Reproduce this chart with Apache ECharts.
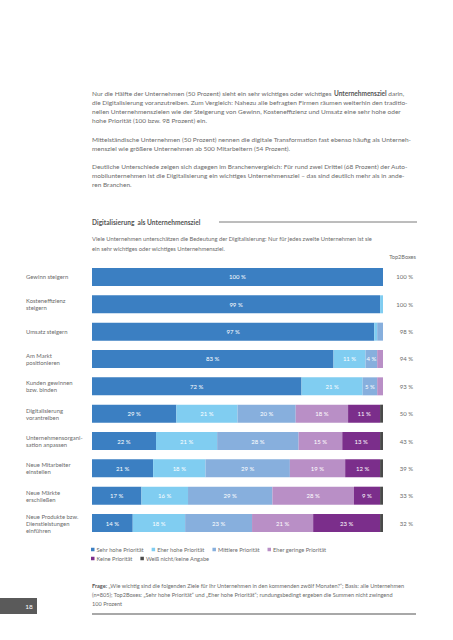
<!DOCTYPE html>
<html><head><meta charset="utf-8">
<script src="https://cdn.jsdelivr.net/npm/echarts@6/dist/echarts.min.js"></script>
<style>html,body{margin:0;padding:0;background:#fff;}#c{width:453px;height:640px;}</style>
</head><body><div id="c"></div>
<script>
const categories = ["Gewinn steigern","Kosteneffizienz\nsteigern","Umsatz steigern","Am Markt\npositionieren","Kunden gewinnen\nbzw. binden","Digitalisierung\nvorantreiben","Unternehmensorgani-\nsation anpassen","Neue Mitarbeiter\neinstellen","Neue Märkte\nerschließen","Neue Produkte bzw.\nDienstleistungen\neinführen"];
const seriesNames = ["Sehr hohe Priorität","Eher hohe Priorität","Mittlere Priorität","Eher geringe Priorität","Keine Priorität","Weiß nicht/keine Angabe"];
const sehrHoch   = [100,99,97,83,72,29,22,21,17,14];
const eherHoch   = [0,1,1,11,21,21,21,18,16,18];
const mittel     = [0,0,2,4,5,20,28,29,29,23];
const eherGering = [0,0,0,2,2,18,15,19,28,21];
const keine      = [0,0,0,0,0,11,13,12,9,23];
const weissNicht = [0,0,0,0,0,1,1,1,1,1];
const top2Boxes  = [100,100,98,94,93,50,43,39,33,32];
const colors = ["#3b7fc2","#80cdf1","#87afdd","#b98fc6","#7b2e8b","#4a4a4a"];

const allData = [sehrHoch, eherHoch, mittel, eherGering, keine, weissNicht];
const txt = "#6b6b6b";
const FF = "Lato, 'DejaVu Sans', sans-serif";

function t(x, y, text, size, opts) {
  return Object.assign({type:'text', x:x, y:y, style:Object.assign({text:text, fontSize:size, fontFamily:FF, fill:txt, textVerticalAlign:'middle'}, (opts||{}))});
}

const para = [
  [92, 93.3, [
    "Nur die Hälfte der Unternehmen (50 Prozent) sieht ein sehr wichtiges oder wichtiges {b|Unternehmensziel} darin,",
    "die Digitalisierung voranzutreiben. Zum Vergleich: Nahezu alle befragten Firmen räumen weiterhin den traditio-",
    "nellen Unternehmenszielen wie der Steigerung von Gewinn, Kosteneffizienz und Umsatz eine sehr hohe oder",
    "hohe Priorität (100 bzw. 98 Prozent) ein."]],
  [92, 139.3, [
    "Mittelständische Unternehmen (50 Prozent) nennen die digitale Transformation fast ebenso häufig als Unterneh-",
    "mensziel wie größere Unternehmen ab 500 Mitarbeitern (54 Prozent)."]],
  [92, 166.7, [
    "Deutliche Unterschiede zeigen sich dagegen im Branchenvergleich: Für rund zwei Drittel (68 Prozent) der Auto-",
    "mobilunternehmen ist die Digitalisierung ein wichtiges Unternehmensziel – das sind deutlich mehr als in ande-",
    "ren Branchen."]]
];
const graphics = [];
para.forEach(p => {
  p[2].forEach((line, i) => {
    graphics.push({type:'text', x:p[0], y:p[1] + i*9, style:{text:line, fontSize:6.5, fontFamily:FF, fill:txt, textVerticalAlign:'middle',
      rich:{b:{fontWeight:'bold', fontSize:6.5, fontFamily:FF, fill:'#555'}}}});
  });
});
graphics.push(t(92, 221.7, "Digitalisierung  als Unternehmensziel", 6.6, {fontWeight:'bold', fill:'#555'}));
graphics.push({type:'line', shape:{x1:219, y1:222, x2:417, y2:222}, style:{stroke:'#7a7a7a', lineWidth:1}});
graphics.push(t(92, 238.7, "Viele Unternehmen unterschätzen die Bedeutung der Digitalisierung: Nur für jedes zweite Unternehmen ist sie", 5.8));
graphics.push(t(92, 248, "ein sehr wichtiges oder wichtiges Unternehmensziel.", 5.8));
graphics.push(t(416, 256, "Top2Boxes", 5.6, {textAlign:'right'}));
const foot = [
  "{b|Frage:} „Wie wichtig sind die folgenden Ziele für Ihr Unternehmen in den kommenden zwölf Monaten?“; Basis: alle Unternehmen",
  "(n=805); Top2Boxes: „Sehr hohe Priorität“ und „Eher hohe Priorität“; rundungsbedingt ergeben die Summen nicht zwingend",
  "100 Prozent"];
foot.forEach((line, i) => {
  graphics.push({type:'text', x:92, y:585.7 + i*9, style:{text:line, fontSize:5.6, fontFamily:FF, fill:txt, textVerticalAlign:'middle',
    rich:{b:{fontWeight:'bold', fontSize:5.6, fontFamily:FF, fill:'#555'}}}});
});
graphics.push({type:'rect', shape:{x:92, y:613, width:324, height:2}, style:{fill:'#a8a8a8'}});
graphics.push({type:'rect', shape:{x:0, y:598, width:37, height:16}, style:{fill:'#5a5a5a'}});
graphics.push(t(29, 606, "18", 6.5, {fill:'#fff', textAlign:'center'}));

const chart = echarts.init(document.getElementById('c'), null, {renderer:'svg'});
chart.setOption({
  animation:false,
  textStyle:{fontFamily:FF},
  grid:{left:92, right:70, top:263.3, height:273.4},
  xAxis:{type:'value', min:0, max:100, show:false},
  yAxis:[
    {type:'category', data:categories, inverse:true, axisLine:{show:false}, axisTick:{show:false},
     axisLabel:{margin:66, align:'left', fontSize:5.9, lineHeight:7, color:txt, fontFamily:FF}},
    {type:'category', data:top2Boxes.map(v => v + ' %'), inverse:true, position:'right', axisLine:{show:false}, axisTick:{show:false},
     axisLabel:{margin:30, align:'right', fontSize:6, color:txt, fontFamily:FF}}
  ],
  legend:[
    {data:seriesNames.slice(0,4), left:91, top:546.5, itemWidth:3.5, itemHeight:3.5, icon:'rect', itemGap:8, padding:0,
     textStyle:{fontSize:5.7, color:txt, fontFamily:FF, padding:[0,0,0,-3]}},
    {data:seriesNames.slice(4), left:91, top:555.5, itemWidth:3.5, itemHeight:3.5, icon:'rect', itemGap:8, padding:0,
     textStyle:{fontSize:5.7, color:txt, fontFamily:FF, padding:[0,0,0,-3]}}
  ],
  series: seriesNames.map((n, i) => ({
    name:n, type:'bar', stack:'s', barWidth:18, data:allData[i], itemStyle:{color:colors[i]},
    label:{show:true, position:'inside', color:'#fff', fontSize:6, fontFamily:FF,
      formatter: p => p.value >= 4 ? p.value + ' %' : ''}
  })),
  graphic:graphics
});
</script></body></html>
